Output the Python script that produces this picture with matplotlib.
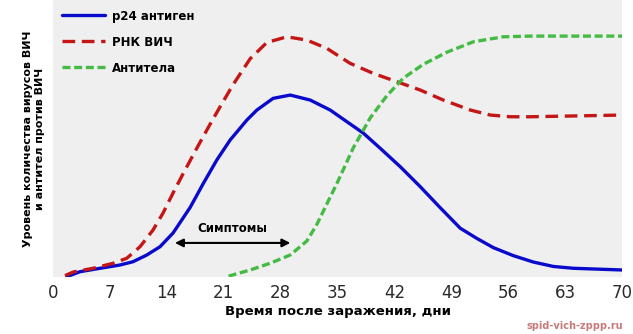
import matplotlib
matplotlib.use("Agg")
import matplotlib.pyplot as plt

# Data (days after infection, relative level 0-100)
p24_days = [1.69, 3.32, 5.79, 8.25, 9.85, 11.54, 13.17, 14.77, 16.87, 18.50, 20.15, 21.79,
            23.85, 25.08, 27.08, 29.18, 31.64, 34.10, 36.16, 38.16, 40.26, 42.72, 45.18,
            47.64, 50.10, 52.16, 54.17, 56.63, 59.09, 61.55, 64.02, 70.0]
p24_vals = [0.1, 1.91, 3.14, 4.33, 5.52, 7.94, 10.94, 15.88, 25.1, 33.83, 42.24, 49.46,
            56.68, 60.29, 64.51, 65.70, 63.90, 60.29, 56.06, 51.99, 46.46, 39.82, 32.60,
            25.0, 17.6, 13.9, 10.6, 7.7, 5.4, 3.8, 3.14, 2.53]

rna_days = [1.48, 2.5, 4.92, 7.39, 9.07, 10.71, 12.31, 13.54, 14.77, 16.04, 17.69, 19.33,
            20.56, 22.16, 24.25, 26.31, 28.77, 31.23, 33.69, 36.56, 39.39, 42.31, 45.18,
            48.01, 51.34, 53.80, 56.26, 58.72, 70.0]
rna_vals = [0.5, 1.8, 3.14, 4.95, 6.75, 10.94, 16.97, 23.10, 30.32, 37.5, 46.5, 55.2,
            61.5, 69.5, 78.8, 84.7, 86.75, 85.56, 82.56, 77.15, 73.54, 70.51, 67.51,
            63.90, 60.29, 58.48, 57.87, 57.87, 58.48]

ab_days = [21.6, 24.25, 26.71, 29.18, 31.23, 32.46, 34.96, 36.93, 39.03, 41.08, 43.09,
           45.55, 48.47, 51.71, 55.40, 58.72, 70.0]
ab_vals = [0.3, 2.53, 4.95, 7.94, 13.0, 19.0, 34.0, 46.57, 57.5, 65.5, 71.8,
           76.8, 81.2, 84.95, 86.75, 87.0, 87.0]

x_ticks = [0, 7, 14, 21, 28, 35, 42, 49, 56, 63, 70]
labels = ["p24 антиген", "РНК ВИЧ", "Антитела"]
symptom_span = [15.0, 29.2]
symptom_level = 12.3

fig = plt.figure(figsize=(6.33, 3.34), dpi=100)
ax = fig.add_axes([0.0837, 0.1707, 0.899, 0.829])
ax.set_facecolor("#efefef")
for s in ax.spines.values():
    s.set_visible(False)

ax.plot(p24_days, p24_vals, color="#0a0acc", lw=2.4, label=labels[0],
        solid_capstyle="round", solid_joinstyle="round")
ax.plot(rna_days, rna_vals, color="#c41616", lw=2.4, linestyle=(0, (3.8, 2.0)),
        label=labels[1], dash_joinstyle="round")
ax.plot(ab_days, ab_vals, color="#44bb44", lw=2.4, linestyle=(0, (2.4, 1.1)),
        label=labels[2], dash_joinstyle="round")

ax.set_xlim(0, 70)
ax.set_ylim(0, 100)
ax.set_xticks(x_ticks)
ax.set_xticklabels([str(t) for t in x_ticks], fontsize=12, color="#2a2a2a")
ax.set_yticks([])
ax.tick_params(axis="x", length=3, color="white", pad=2)

ax.set_xlabel("Время после заражения, дни", fontsize=9.5, fontweight="bold", labelpad=2)
ax.set_ylabel("Уровень количества вирусов ВИЧ\nи антител против ВИЧ", fontsize=8,
              fontweight="bold", labelpad=6)

leg = ax.legend(loc="upper left", frameon=False, fontsize=8.5, handlelength=3.6,
                labelspacing=1.1, borderaxespad=0.4, handletextpad=0.6,
                bbox_to_anchor=(0.0, 1.0))
for t in leg.get_texts():
    t.set_fontweight("bold")

ax.annotate("", xy=(symptom_span[0], symptom_level), xytext=(symptom_span[1], symptom_level),
            arrowprops=dict(arrowstyle="<|-|>", color="black", lw=1.5,
                            mutation_scale=12, shrinkA=0, shrinkB=0))
ax.text(sum(symptom_span) / 2, symptom_level + 2.9, "Симптомы", ha="center", va="bottom",
        fontsize=8.5, fontweight="bold")

fig.text(0.985, 0.01, "spid-vich-zppp.ru", ha="right", va="bottom", fontsize=7,
         color="#c87a7a", fontweight="bold")

fig.savefig("out.png", dpi=100)
